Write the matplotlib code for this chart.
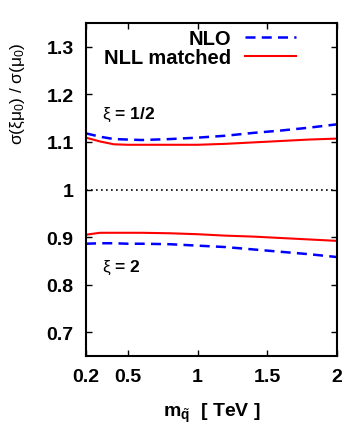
import matplotlib
matplotlib.use("Agg")
import matplotlib.pyplot as plt

plt.rcParams['font.family'] = ['Liberation Sans', 'DejaVu Sans']
plt.rcParams['mathtext.fontset'] = 'custom'
plt.rcParams['mathtext.rm'] = 'Liberation Sans'
plt.rcParams['mathtext.it'] = 'Liberation Sans'
plt.rcParams['mathtext.bf'] = 'Liberation Sans:bold'

# squark mass [TeV]
mass = [0.2, 0.3, 0.4, 0.5, 0.6, 0.8, 1.0, 1.2, 1.4, 1.6, 1.8, 2.0]

# xi = 1/2
nlo_half = [1.118, 1.111, 1.106, 1.105, 1.104, 1.106, 1.109, 1.113, 1.119, 1.124, 1.130, 1.137]
nll_half = [1.109, 1.101, 1.095, 1.094, 1.094, 1.094, 1.094, 1.096, 1.099, 1.102, 1.105, 1.107]

# xi = 2
nlo_two = [0.886, 0.887, 0.887, 0.886, 0.886, 0.885, 0.882, 0.879, 0.874, 0.869, 0.864, 0.858]
nll_two = [0.905, 0.909, 0.909, 0.909, 0.909, 0.908, 0.906, 0.903, 0.901, 0.898, 0.895, 0.892]

fig = plt.figure(figsize=(3.49, 4.39), dpi=100)
ax = fig.add_axes([86/349, 1 - 357/439, 251/349, 333/439])

blue = '#0000ff'
red = '#ff0000'

ax.plot(mass, nlo_half, color=blue, ls=(0, (4, 2.5)), lw=1.8, label='NLO')
ax.plot(mass, nll_half, color=red, lw=1.5, label='NLL matched')
ax.plot(mass, nlo_two, color=blue, ls=(0, (4, 2.5)), lw=1.8)
ax.plot(mass, nll_two, color=red, lw=1.5)
ax.axhline(1.0, color='black', ls=(0, (1, 2)), lw=1.2)

ax.set_xlim(0.2, 2.0)
ax.set_ylim(0.65, 1.35)
ax.set_xticks([0.2, 0.5, 1, 1.5, 2])
ax.set_xticklabels(['0.2', '0.5', '1', '1.5', '2'])
ax.set_yticks([0.7, 0.8, 0.9, 1.0, 1.1, 1.2, 1.3])
ax.set_yticklabels(['0.7', '0.8', '0.9', '1', '1.1', '1.2', '1.3'])
ax.tick_params(direction='in', top=True, right=True, length=4, width=1,
               labelsize=14, pad=9)
for lab in ax.get_xticklabels() + ax.get_yticklabels():
    lab.set_fontweight('bold')
for sp in ax.spines.values():
    sp.set_linewidth(1.5)

ax.text(0.065, 0.727, r'$\xi$ = 1/2', transform=ax.transAxes, fontsize=12.5,
        fontweight='bold', va='center')
ax.text(0.065, 0.267, r'$\xi$ = 2', transform=ax.transAxes, fontsize=12.5,
        fontweight='bold', va='center')

ax.set_ylabel(r'$\sigma(\xi\mu_0)$ / $\sigma(\mu_0)$', fontsize=12.5)
ax.yaxis.set_label_coords(-0.235, 0.79)
ax.set_xlabel(r'$\mathbf{m}_{\tilde{\mathbf{q}}}$  [ TeV ]', fontsize=14,
              fontweight='bold', labelpad=11)

leg = ax.legend(loc='upper right', bbox_to_anchor=(0.876, 1.012), frameon=False,
                markerfirst=False, prop={'weight': 'bold', 'size': 14.5},
                handlelength=2.5, handletextpad=0.7, borderaxespad=0.1,
                labelspacing=0.0)
for t in leg.get_texts():
    t.set_ha('right')

fig.savefig('out.png', dpi=100)
